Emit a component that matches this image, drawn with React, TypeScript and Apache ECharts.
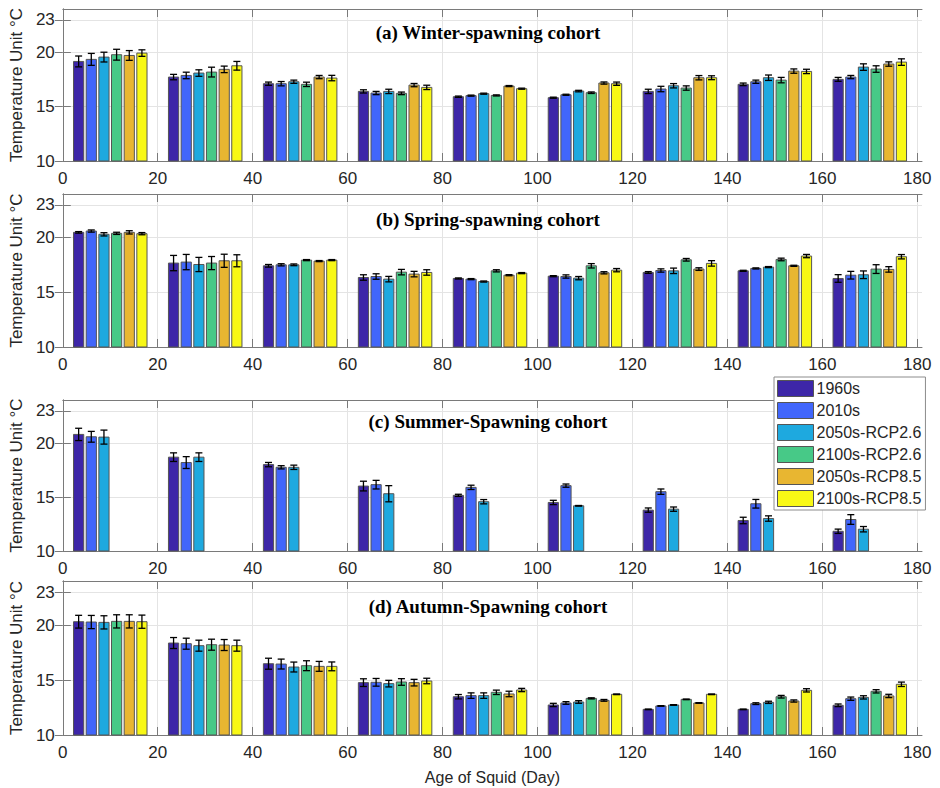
import React, { useEffect, useRef } from "react";
import * as echarts from "echarts";

const ages = [10, 30, 50, 70, 90, 110, 130, 150, 170];
const scenarios = ["1960s", "2010s", "2050s-RCP2.6", "2100s-RCP2.6", "2050s-RCP8.5", "2100s-RCP8.5"];
const colors = ["#3D26A8", "#4166FB", "#1EA9DF", "#47C987", "#E8B631", "#F8F815"];
const xTicks = [0, 20, 40, 60, 80, 100, 120, 140, 160, 180];
const yTicks = [10, 15, 20, 23];
const panelTitles = [
  "(a) Winter-spawning cohort",
  "(b) Spring-spawning cohort",
  "(c) Summer-Spawning cohort",
  "(d) Autumn-Spawning cohort",
];

// rows: scenarios, columns: ages
const winterMean = [
  [19.17, 17.73, 17.12, 16.41, 15.92, 15.83, 16.41, 17.06, 17.52],
  [19.36, 17.88, 17.12, 16.26, 16.02, 16.1, 16.63, 17.3, 17.73],
  [19.57, 18.1, 17.3, 16.41, 16.2, 16.44, 16.93, 17.67, 18.65],
  [19.79, 18.19, 17.06, 16.23, 16.04, 16.29, 16.72, 17.45, 18.47],
  [19.72, 18.44, 17.73, 16.99, 16.9, 17.18, 17.67, 18.28, 18.93],
  [19.94, 18.77, 17.64, 16.78, 16.66, 17.12, 17.67, 18.25, 19.11],
];
const winterErr = [
  [0.5, 0.25, 0.15, 0.15, 0.06, 0.05, 0.2, 0.12, 0.18],
  [0.55, 0.3, 0.2, 0.15, 0.05, 0.05, 0.25, 0.15, 0.15],
  [0.45, 0.3, 0.15, 0.2, 0.05, 0.07, 0.2, 0.25, 0.3],
  [0.5, 0.45, 0.2, 0.12, 0.05, 0.07, 0.2, 0.25, 0.3],
  [0.45, 0.3, 0.15, 0.15, 0.05, 0.1, 0.2, 0.2, 0.2],
  [0.3, 0.4, 0.25, 0.2, 0.05, 0.15, 0.18, 0.2, 0.3],
];
const springMean = [
  [20.49, 17.68, 17.43, 16.36, 16.27, 16.48, 16.82, 16.97, 16.27],
  [20.61, 17.77, 17.52, 16.45, 16.21, 16.45, 17.0, 17.19, 16.57],
  [20.31, 17.55, 17.52, 16.21, 15.99, 16.3, 16.97, 17.31, 16.61],
  [20.4, 17.68, 17.95, 16.85, 16.97, 17.43, 17.98, 18.01, 17.13],
  [20.49, 17.89, 17.86, 16.67, 16.57, 16.79, 17.13, 17.43, 17.1],
  [20.37, 17.89, 17.95, 16.82, 16.76, 17.03, 17.65, 18.32, 18.26],
];
const springErr = [
  [0.07, 0.7, 0.12, 0.25, 0.05, 0.05, 0.08, 0.05, 0.35],
  [0.1, 0.7, 0.1, 0.25, 0.05, 0.15, 0.15, 0.05, 0.35],
  [0.15, 0.65, 0.08, 0.25, 0.05, 0.15, 0.25, 0.05, 0.35],
  [0.1, 0.6, 0.05, 0.25, 0.1, 0.2, 0.12, 0.12, 0.4],
  [0.15, 0.6, 0.05, 0.25, 0.05, 0.1, 0.12, 0.05, 0.25],
  [0.1, 0.55, 0.05, 0.25, 0.05, 0.15, 0.25, 0.15, 0.2],
];
const summerMean = [
  [20.81, 18.7, 18.01, 16.02, 15.16, 14.5, 13.79, 12.83, 11.83],
  [20.59, 18.2, 17.76, 16.15, 15.9, 16.06, 15.5, 14.38, 12.92],
  [20.56, 18.7, 17.76, 15.31, 14.57, 14.19, 13.88, 13.01, 12.02],
  [],
  [],
  [],
];
const summerErr = [
  [0.57, 0.4, 0.2, 0.45, 0.1, 0.2, 0.2, 0.3, 0.2],
  [0.5, 0.55, 0.15, 0.4, 0.2, 0.15, 0.25, 0.4, 0.45],
  [0.65, 0.4, 0.2, 0.75, 0.2, 0.03, 0.2, 0.25, 0.25],
  [],
  [],
  [],
];
const autumnMean = [
  [20.3, 18.36, 16.48, 14.76, 13.48, 12.73, 12.33, 12.33, 12.7],
  [20.27, 18.3, 16.45, 14.79, 13.58, 12.91, 12.64, 12.85, 13.3],
  [20.24, 18.12, 16.18, 14.67, 13.58, 13.0, 12.73, 12.97, 13.42],
  [20.33, 18.21, 16.3, 14.82, 13.88, 13.33, 13.24, 13.48, 13.97],
  [20.33, 18.18, 16.24, 14.76, 13.73, 13.15, 12.91, 13.09, 13.55],
  [20.3, 18.12, 16.24, 14.91, 14.09, 13.7, 13.7, 14.06, 14.61],
];
const autumnErr = [
  [0.58, 0.5, 0.5, 0.35, 0.2, 0.15, 0.03, 0.03, 0.12],
  [0.6, 0.5, 0.45, 0.35, 0.25, 0.12, 0.03, 0.08, 0.15],
  [0.6, 0.5, 0.45, 0.3, 0.25, 0.12, 0.03, 0.1, 0.15],
  [0.6, 0.5, 0.45, 0.3, 0.2, 0.05, 0.03, 0.12, 0.15],
  [0.6, 0.5, 0.45, 0.3, 0.25, 0.08, 0.03, 0.1, 0.15],
  [0.6, 0.5, 0.4, 0.25, 0.15, 0.03, 0.03, 0.15, 0.2],
];

const panelMeans = [winterMean, springMean, summerMean, autumnMean];
const panelErrs = [winterErr, springErr, summerErr, autumnErr];

const gridTops = [9, 194, 400, 581];
const gridHeights = [152, 153, 151, 154];
const titleTops = [23, 210, 412, 597];

const SLOT = 8 / 3;
const BAR_W = 2.15;
const AXIS_COLOR = "#7a7a7a";
const TEXT_COLOR = "#262626";
const SANS = "Liberation Sans, Arial, sans-serif";

function buildOption() {
  const grid: any[] = [];
  const xAxis: any[] = [];
  const yAxis: any[] = [];
  const series: any[] = [];
  const title: any[] = [];

  for (let p = 0; p < 4; p++) {
    grid.push({ left: 54, right: 18, top: gridTops[p], height: gridHeights[p], containLabel: false });
    title.push({
      text: panelTitles[p],
      left: 488,
      top: titleTops[p],
      textAlign: "center",
      padding: 0,
      textStyle: { fontFamily: "Liberation Serif, Times New Roman, serif", fontWeight: "bold", fontSize: 19, color: "#000" },
    });
    xAxis.push({
      type: "value",
      gridIndex: p,
      min: 0,
      max: 181,
      position: "bottom",
      axisLine: { show: true, lineStyle: { color: AXIS_COLOR, width: 1 } },
      axisTick: { show: true, inside: true, length: 8, customValues: xTicks, lineStyle: { color: AXIS_COLOR } },
      axisLabel: { show: true, customValues: xTicks, fontSize: 17, fontFamily: SANS, color: TEXT_COLOR, margin: 9 },
      splitLine: { show: true, lineStyle: { color: "#e4e4e4", width: 1 } },
      name: p === 3 ? "Age of Squid (Day)" : "",
      nameLocation: "middle",
      nameGap: 34,
      nameTextStyle: { fontSize: 16, fontFamily: SANS, color: TEXT_COLOR },
    });
    xAxis.push({
      type: "value",
      gridIndex: p,
      min: 0,
      max: 181,
      position: "top",
      axisLine: { show: true, lineStyle: { color: AXIS_COLOR, width: 1 } },
      axisTick: { show: true, inside: true, length: 8, customValues: xTicks, lineStyle: { color: AXIS_COLOR } },
      axisLabel: { show: false },
      splitLine: { show: false },
    });
    yAxis.push({
      type: "value",
      gridIndex: p,
      min: 10,
      max: 24,
      position: "left",
      axisLine: { show: true, lineStyle: { color: AXIS_COLOR, width: 1 } },
      axisTick: { show: true, inside: true, length: 8, customValues: yTicks, lineStyle: { color: AXIS_COLOR } },
      axisLabel: { show: true, customValues: yTicks, fontSize: 17, fontFamily: SANS, color: TEXT_COLOR, margin: 8 },
      splitLine: { show: true, lineStyle: { color: "#e4e4e4", width: 1 } },
      name: "Temperature Unit °C",
      nameLocation: "middle",
      nameRotate: 90,
      nameGap: 31,
      nameTextStyle: { fontSize: 17, fontFamily: SANS, color: TEXT_COLOR },
    });
    yAxis.push({
      type: "value",
      gridIndex: p,
      min: 10,
      max: 24,
      position: "right",
      axisLine: { show: true, lineStyle: { color: AXIS_COLOR, width: 1 } },
      axisTick: { show: true, inside: true, length: 8, customValues: yTicks, lineStyle: { color: AXIS_COLOR } },
      axisLabel: { show: false },
      splitLine: { show: false },
    });

    for (let k = 0; k < scenarios.length; k++) {
      const means = panelMeans[p][k];
      const errs = panelErrs[p][k];
      const data = means.map((m, i) => [ages[i], m, errs[i]]);
      const color = colors[k];
      series.push({
        type: "custom",
        name: scenarios[k],
        xAxisIndex: 2 * p,
        yAxisIndex: 2 * p,
        itemStyle: { color, borderColor: "#555", borderWidth: 1 },
        encode: { x: 0, y: 1 },
        data,
        renderItem: (params: any, api: any) => {
          const age = api.value(0);
          const mean = api.value(1);
          const err = api.value(2);
          const base = api.coord([age, 10]);
          const top = api.coord([age, mean]);
          const unit = api.size([1, 0])[0];
          const cx = base[0] + (k - 2.5) * SLOT * unit;
          const w = BAR_W * unit;
          const yHi = api.coord([age, mean + err])[1];
          const yLo = api.coord([age, mean - err])[1];
          const cap = 3.5;
          const es = { stroke: "#000", lineWidth: 1.3 };
          return {
            type: "group",
            children: [
              {
                type: "rect",
                shape: { x: cx - w / 2, y: top[1], width: w, height: base[1] - top[1] },
                style: { fill: color, stroke: "#555", lineWidth: 1 },
              },
              { type: "line", shape: { x1: cx, y1: yHi, x2: cx, y2: yLo }, style: es },
              { type: "line", shape: { x1: cx - cap, y1: yHi, x2: cx + cap, y2: yHi }, style: es },
              { type: "line", shape: { x1: cx - cap, y1: yLo, x2: cx + cap, y2: yLo }, style: es },
            ],
          };
        },
      });
    }
  }

  return {
    animation: false,
    backgroundColor: "#fff",
    title,
    grid,
    xAxis,
    yAxis,
    legend: {
      data: scenarios,
      orient: "vertical",
      left: 774,
      top: 377,
      padding: [3, 4, 3, 3],
      itemWidth: 36,
      itemHeight: 16,
      itemGap: 5,
      icon: "rect",
      borderColor: "#8c8c8c",
      borderWidth: 1,
      backgroundColor: "#fff",
      itemStyle: { borderColor: "#555", borderWidth: 1 },
      textStyle: { fontSize: 16, fontFamily: SANS, color: TEXT_COLOR, padding: [0, 0, 0, -2] },
      selectedMode: false,
    },
    series,
  };
}

export default function App() {
  const ref = useRef<HTMLDivElement>(null);
  useEffect(() => {
    document.body.style.margin = "0";
    if (!ref.current) return;
    const chart = echarts.init(ref.current, undefined, { renderer: "svg" });
    chart.setOption(buildOption() as any);
    return () => chart.dispose();
  }, []);
  return <div ref={ref} style={{ width: 940, height: 788 }} />;
}
